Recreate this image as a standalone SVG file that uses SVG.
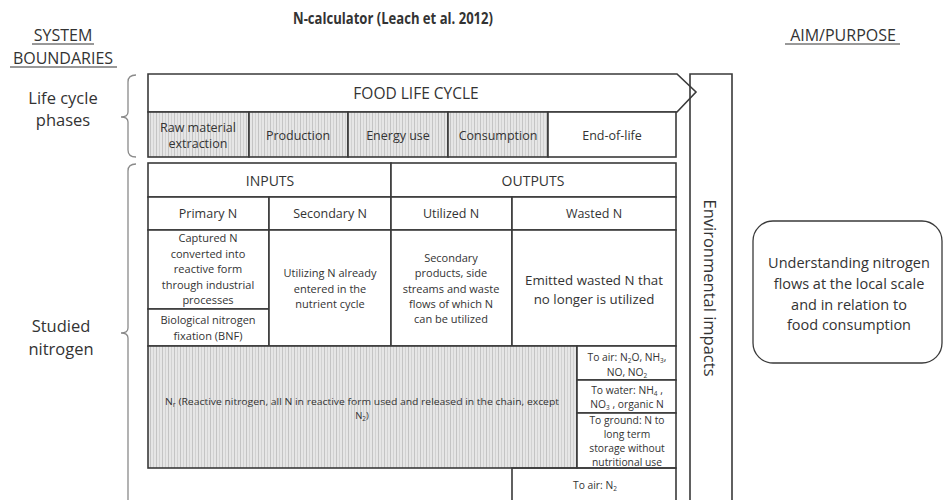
<svg xmlns="http://www.w3.org/2000/svg" width="945" height="500" viewBox="0 0 945 500">
  <defs>
    <pattern id="stripes" width="6" height="6" patternUnits="userSpaceOnUse">
      <rect width="6" height="6" fill="#e6e6e6"/>
      <rect x="0" width="1" height="6" fill="#c4c4c4"/>
      <rect x="3" width="1" height="6" fill="#d2d2d2"/>
    </pattern>
  </defs>
  <style>
    text { font-family: "Open Sans", "Liberation Sans", sans-serif; fill: #333; }
    .c { text-anchor: middle; }
    .box { fill: #fff; stroke: #3a3a3a; stroke-width: 1.6; }
    .hatch { fill: url(#stripes); stroke: #3a3a3a; stroke-width: 1.6; }
    .ln { stroke: #3a3a3a; stroke-width: 1.6; fill: none; }
    .brace { stroke: #8a8a8a; stroke-width: 1.3; fill: none; }
    .ul { stroke: #333; stroke-width: 1; }
    .hd { font-size: 14px; }
    .sh { font-size: 12.5px; }
    .ph { font-size: 12.5px; }
    .sm { font-size: 11px; }
    .xs { font-size: 9.5px; }
    .tg { font-size: 10.3px; }
    .lbl { font-size: 16.5px; }
    .sub { font-size: 6.5px; }
  </style>
  <rect width="945" height="500" fill="#fff"/>

  <!-- title and column headings -->
  <text x="393" y="24" class="c" font-size="16.5" font-weight="bold" fill="#222" textLength="200" lengthAdjust="spacingAndGlyphs">N-calculator (Leach et al. 2012)</text>
  <g id="system-boundaries">
    <text x="63" y="41" class="c" font-size="16">SYSTEM</text>
    <line x1="32" y1="44" x2="94" y2="44" class="ul"/>
    <text x="63" y="64" class="c" font-size="16">BOUNDARIES</text>
    <line x1="10" y1="67" x2="117" y2="67" class="ul"/>
  </g>
  <g id="aim-heading">
    <text x="843" y="41" class="c" font-size="16">AIM/PURPOSE</text>
    <line x1="785" y1="44" x2="900" y2="44" class="ul"/>
  </g>

  <!-- row labels with braces -->
  <g id="life-cycle-label">
    <text x="63" y="104" class="c lbl">Life cycle</text>
    <text x="63" y="126" class="c lbl">phases</text>
    <path class="brace" d="M136,75 Q128,75 128,82 L128,112 Q128,117 121,117 Q128,117 128,122 L128,150 Q128,157 136,157"/>
  </g>
  <g id="studied-nitrogen-label">
    <text x="61" y="332" class="c lbl">Studied</text>
    <text x="61" y="355" class="c lbl">nitrogen</text>
    <path class="brace" d="M136,164 Q128,164 128,171 L128,328 Q128,333 121,333 Q128,333 128,338 L128,500"/>
  </g>

  <!-- food life cycle arrow -->
  <g id="food-life-cycle">
    <path class="box" d="M148,74 L677,74 L696,92 L677,112 L148,112 Z"/>
    <text x="416" y="99" class="c" font-size="15.5">FOOD LIFE CYCLE</text>
  </g>

  <!-- life cycle phases -->
  <g id="phase-raw">
    <rect class="hatch" x="148" y="112" width="101" height="45"/>
    <text x="198" y="132" class="c ph">Raw material</text>
    <text x="198" y="148" class="c ph">extraction</text>
  </g>
  <g id="phase-production">
    <rect class="hatch" x="249" y="112" width="99" height="45"/>
    <text x="298" y="140" class="c ph">Production</text>
  </g>
  <g id="phase-energy">
    <rect class="hatch" x="348" y="112" width="100" height="45"/>
    <text x="398" y="140" class="c ph">Energy use</text>
  </g>
  <g id="phase-consumption">
    <rect class="hatch" x="448" y="112" width="100" height="45"/>
    <text x="498" y="140" class="c ph">Consumption</text>
  </g>
  <g id="phase-end">
    <rect class="box" x="548" y="112" width="128" height="45"/>
    <text x="612" y="140" class="c ph">End-of-life</text>
  </g>

  <!-- environmental impacts column -->
  <g id="environmental-impacts">
    <path class="ln" d="M690,500 L690,74 L732,74 L732,500"/>
    <text transform="translate(704,288) rotate(90)" class="c" font-size="16.5">Environmental impacts</text>
  </g>

  <!-- inputs / outputs -->
  <g id="inputs">
    <rect class="box" x="148" y="163" width="243" height="34"/>
    <text x="270" y="186" class="c hd">INPUTS</text>
  </g>
  <g id="outputs">
    <rect class="box" x="391" y="163" width="285" height="34"/>
    <text x="533" y="186" class="c hd">OUTPUTS</text>
  </g>

  <g id="primary-n">
    <rect class="box" x="148" y="197" width="121" height="33"/>
    <text x="208" y="218" class="c sh">Primary N</text>
    <rect class="box" x="148" y="230" width="121" height="79"/>
    <text class="c sm" x="208" y="242">Captured N</text>
    <text class="c sm" x="208" y="258">converted into</text>
    <text class="c sm" x="208" y="273">reactive form</text>
    <text class="c sm" x="208" y="289">through industrial</text>
    <text class="c sm" x="208" y="304">processes</text>
    <rect class="box" x="148" y="309" width="121" height="37"/>
    <text class="c sm" x="208" y="324">Biological nitrogen</text>
    <text class="c sm" x="208" y="340">fixation (BNF)</text>
  </g>
  <g id="secondary-n">
    <rect class="box" x="269" y="197" width="122" height="33"/>
    <text x="330" y="218" class="c sh">Secondary N</text>
    <rect class="box" x="269" y="230" width="122" height="116"/>
    <text class="c sm" x="330" y="277">Utilizing N already</text>
    <text class="c sm" x="330" y="293">entered in the</text>
    <text class="c sm" x="330" y="308">nutrient cycle</text>
  </g>
  <g id="utilized-n">
    <rect class="box" x="391" y="197" width="121" height="33"/>
    <text x="451" y="218" class="c sh">Utilized N</text>
    <rect class="box" x="391" y="230" width="121" height="116"/>
    <text class="c sm" x="451" y="262">Secondary</text>
    <text class="c sm" x="451" y="277">products, side</text>
    <text class="c sm" x="451" y="293">streams and waste</text>
    <text class="c sm" x="451" y="308">flows of which N</text>
    <text class="c sm" x="451" y="323">can be utilized</text>
  </g>
  <g id="wasted-n">
    <rect class="box" x="512" y="197" width="164" height="33"/>
    <text x="594" y="218" class="c sh">Wasted N</text>
    <rect class="box" x="512" y="230" width="164" height="116"/>
    <text class="c" font-size="13.3" x="594" y="285">Emitted wasted N that</text>
    <text class="c" font-size="13.3" x="594" y="304">no longer is utilized</text>
  </g>

  <!-- reactive nitrogen -->
  <g id="reactive-nitrogen">
    <rect class="hatch" x="148" y="346" width="429" height="122"/>
    <text class="c xs" x="362" y="405" textLength="394" lengthAdjust="spacingAndGlyphs">N<tspan class="sub" dy="2">r</tspan><tspan dy="-2"> (Reactive nitrogen, all N in reactive form used and released in the chain, except</tspan></text>
    <text class="c xs" x="362" y="419">N<tspan class="sub" dy="2">2</tspan><tspan dy="-2">)</tspan></text>
  </g>

  <!-- emissions of wasted nitrogen -->
  <g id="to-air">
    <rect class="box" x="577" y="346" width="99" height="34"/>
    <text class="c tg" x="627" y="361">To air: N<tspan class="sub" dy="2">2</tspan><tspan dy="-2">O, NH</tspan><tspan class="sub" dy="2">3</tspan><tspan dy="-2">,</tspan></text>
    <text class="c tg" x="627" y="376">NO, NO<tspan class="sub" dy="2">2</tspan></text>
  </g>
  <g id="to-water">
    <rect class="box" x="577" y="380" width="99" height="33"/>
    <text class="c tg" x="627" y="394">To water: NH<tspan class="sub" dy="2">4</tspan><tspan dy="-2"> ,</tspan></text>
    <text class="c tg" x="627" y="408">NO<tspan class="sub" dy="2">3</tspan><tspan dy="-2"> , organic N</tspan></text>
  </g>
  <g id="to-ground">
    <rect class="box" x="577" y="413" width="99" height="55"/>
    <text class="c tg" x="627" y="424">To ground: N to</text>
    <text class="c tg" x="627" y="438">long term</text>
    <text class="c tg" x="627" y="452">storage without</text>
    <text class="c tg" x="627" y="466">nutritional use</text>
  </g>
  <g id="to-air-n2">
    <path class="ln" d="M512,500 L512,468 L676,468 L676,500"/>
    <text class="tg" x="573" y="489">To air: N<tspan class="sub" dy="2">2</tspan></text>
  </g>

  <!-- aim / purpose -->
  <g id="aim">
    <rect x="753" y="221" width="189" height="142" rx="20" ry="20" fill="#fff" stroke="#3a3a3a" stroke-width="1.3"/>
    <text class="c" font-size="14.5" x="849" y="268">Understanding nitrogen</text>
    <text class="c" font-size="14.5" x="849" y="289">flows at the local scale</text>
    <text class="c" font-size="14.5" x="849" y="310">and in relation to</text>
    <text class="c" font-size="14.5" x="849" y="330">food consumption</text>
  </g>
</svg>
